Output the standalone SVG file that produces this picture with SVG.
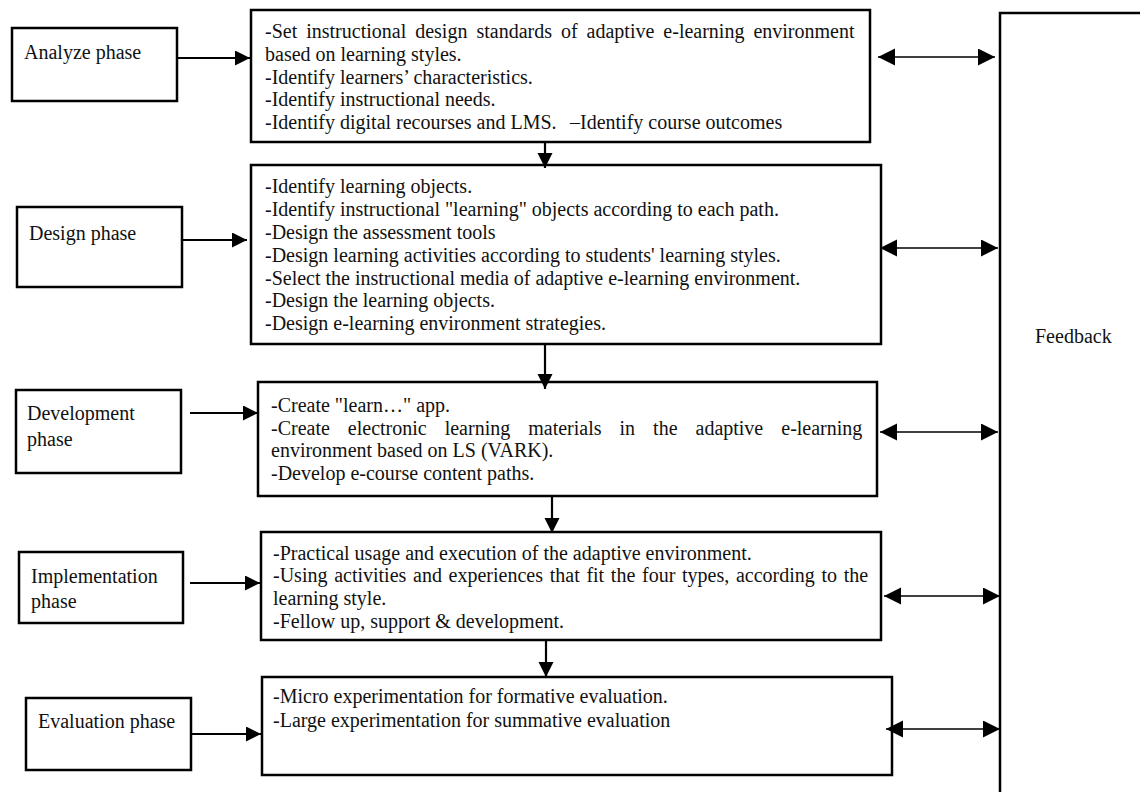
<svg xmlns="http://www.w3.org/2000/svg" width="1140" height="792" viewBox="0 0 1140 792">
<style>
.box{fill:#fff;stroke:#000;stroke-width:2.5}
.t{font-family:"Liberation Serif","Times New Roman",serif;font-size:20px;fill:#111}
.c{fill:none;stroke:#000;stroke-width:2.2}
.d{fill:none;stroke:#000;stroke-width:1.6}
</style>
<defs>
<marker id="ah" markerUnits="userSpaceOnUse" markerWidth="16" markerHeight="16" refX="15" refY="7.5" orient="auto-start-reverse" viewBox="0 0 16 16">
<path d="M0,0 L15,7.5 L0,15 z" fill="#000"/>
</marker>
<marker id="ah2" markerUnits="userSpaceOnUse" markerWidth="18" markerHeight="18" refX="17" refY="8.5" orient="auto-start-reverse" viewBox="0 0 18 18">
<path d="M0,0 L17,8.5 L0,17 z" fill="#000"/>
</marker>
</defs>
<rect width="1140" height="792" fill="#fff"/>

<g id="feedback">
<rect class="box" x="1000" y="13" width="200" height="800"/>
<text class="t" x="1035" y="343">Feedback</text>
</g>

<g id="analyze-phase">
<rect class="box" x="12" y="28" width="165" height="73"/>
<text class="t" x="24" y="59">Analyze phase</text>
</g>
<g id="analyze-tasks">
<rect class="box" x="251" y="10" width="619" height="132"/>
<text class="t" x="265" y="38" word-spacing="4">-Set instructional design standards of adaptive e-learning environment</text>
<text class="t" x="265" y="61">based on learning styles.</text>
<text class="t" x="265" y="83.5">-Identify learners’ characteristics.</text>
<text class="t" x="265" y="106">-Identify instructional needs.</text>
<text class="t" x="265" y="128.5">-Identify digital recourses and LMS.<tspan x="570">–Identify course outcomes</tspan></text>
</g>

<g id="design-phase">
<rect class="box" x="17" y="207" width="165" height="80"/>
<text class="t" x="29" y="240">Design phase</text>
</g>
<g id="design-tasks">
<rect class="box" x="251" y="165" width="630" height="179"/>
<text class="t" x="265" y="193">-Identify learning objects.</text>
<text class="t" x="265" y="216">-Identify instructional "learning" objects according to each path.</text>
<text class="t" x="265" y="239">-Design the assessment tools</text>
<text class="t" x="265" y="261.5">-Design learning activities according to students' learning styles.</text>
<text class="t" x="265" y="284.5">-Select the instructional media of adaptive e-learning environment.</text>
<text class="t" x="265" y="307">-Design the learning objects.</text>
<text class="t" x="265" y="330">-Design e-learning environment strategies.</text>
</g>

<g id="development-phase">
<rect class="box" x="16" y="390" width="165" height="83"/>
<text class="t" x="27" y="420">Development</text>
<text class="t" x="27" y="446">phase</text>
</g>
<g id="development-tasks">
<rect class="box" x="258" y="382" width="619" height="114"/>
<text class="t" x="271" y="412">-Create "learn…" app.</text>
<text class="t" x="271" y="435" word-spacing="13">-Create electronic learning materials in the adaptive e-learning</text>
<text class="t" x="271" y="457">environment based on LS (VARK).</text>
<text class="t" x="271" y="480">-Develop e-course content paths.</text>
</g>

<g id="implementation-phase">
<rect class="box" x="19" y="552" width="164" height="71"/>
<text class="t" x="31" y="583">Implementation</text>
<text class="t" x="31" y="608">phase</text>
</g>
<g id="implementation-tasks">
<rect class="box" x="261" y="532" width="620" height="108"/>
<text class="t" x="273" y="560">-Practical usage and execution of the adaptive environment.</text>
<text class="t" x="273" y="582" word-spacing="1.7">-Using activities and experiences that fit the four types, according to the</text>
<text class="t" x="273" y="605">learning style.</text>
<text class="t" x="273" y="628">-Fellow up, support &amp; development.</text>
</g>

<g id="evaluation-phase">
<rect class="box" x="26" y="698" width="165" height="72"/>
<text class="t" x="38" y="728">Evaluation phase</text>
</g>
<g id="evaluation-tasks">
<rect class="box" x="262" y="677" width="630" height="98"/>
<text class="t" x="273" y="703">-Micro experimentation for formative evaluation.</text>
<text class="t" x="273" y="727">-Large experimentation for summative evaluation</text>
</g>

<g id="connectors">
<path class="c" d="M177,58 H250" marker-end="url(#ah)"/>
<path class="c" d="M182,240 H247" marker-end="url(#ah)"/>
<path class="c" d="M190,413 H258" marker-end="url(#ah)"/>
<path class="c" d="M190,583 H260" marker-end="url(#ah)"/>
<path class="c" d="M191,734 H261" marker-end="url(#ah)"/>

<path class="c" d="M545,142 V168" marker-end="url(#ah)"/>
<path class="c" d="M545,344 V389" marker-end="url(#ah)"/>
<path class="c" d="M552,496 V533" marker-end="url(#ah)"/>
<path class="c" d="M546,640 V677" marker-end="url(#ah)"/>

<path class="d" d="M878,57 H995" marker-start="url(#ah2)" marker-end="url(#ah2)"/>
<path class="d" d="M880,248 H998" marker-start="url(#ah2)" marker-end="url(#ah2)"/>
<path class="d" d="M880,432 H998" marker-start="url(#ah2)" marker-end="url(#ah2)"/>
<path class="d" d="M884,596 H1000" marker-start="url(#ah2)" marker-end="url(#ah2)"/>
<path class="d" d="M886,729 H1000" marker-start="url(#ah2)" marker-end="url(#ah2)"/>
</g>
</svg>
